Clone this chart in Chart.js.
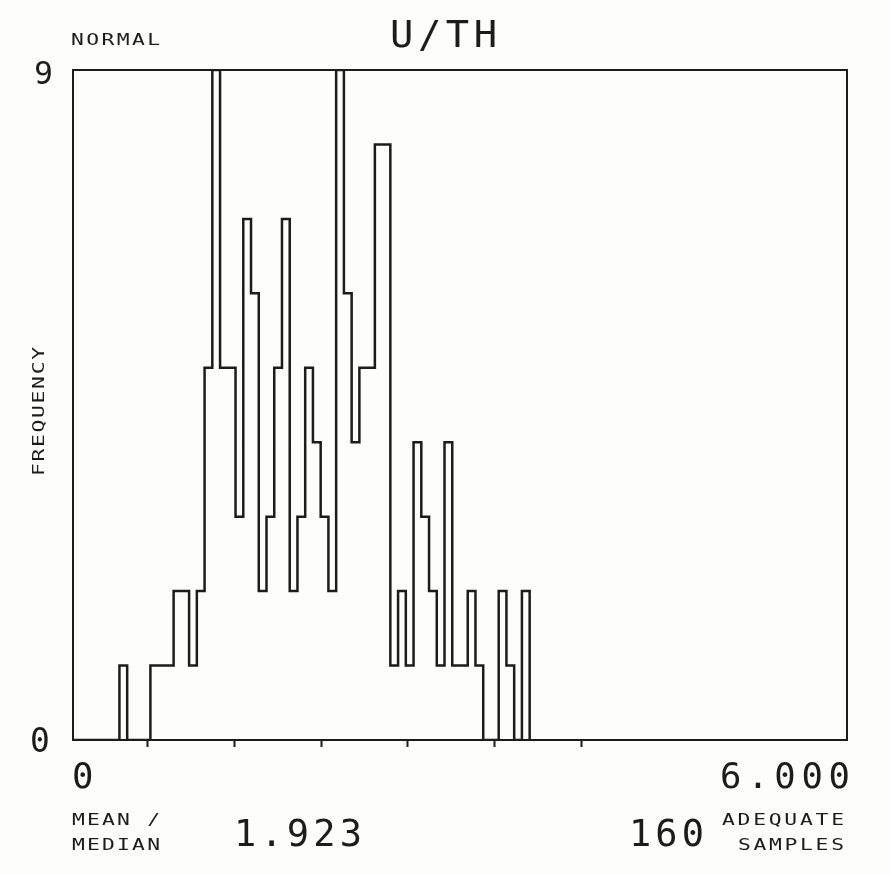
<!DOCTYPE html>
<html>
<head>
<meta charset="utf-8">
<script src="https://cdn.jsdelivr.net/npm/chart.js@4.4.1/dist/chart.umd.min.js"></script>
<style>
  html, body { margin: 0; padding: 0; background: #fdfdfc; }
  canvas { display: block; }
</style>
</head>
<body>
<canvas id="histo" width="891" height="874"></canvas>
<script>
// ─── DONNÉES ──────────────────────────────────────────────────────────────
const chartTitle = 'U/TH';
const fitLabel = 'NORMAL';
const yAxisLabel = 'FREQUENCY';
const xMin = 0;
const xMax = 6;
const xEndLabels = ['0', '6.000'];
const yMin = 0;
const yMax = 9;
const binWidth = 0.06;
// fréquence par classe (classe k = [k*0.06, (k+1)*0.06[)
const binCounts = [
  0, 0, 0, 0, 0, 0, 1, 0, 0, 0,
  1, 1, 1, 2, 2, 1, 2, 5, 9, 5,
  5, 3, 7, 6, 2, 3, 5, 7, 2, 3,
  5, 4, 3, 2, 9, 6, 4, 5, 5, 8,
  8, 1, 2, 1, 4, 3, 2, 1, 4, 1,
  1, 2, 1, 0, 0, 2, 1, 0, 2
];
// repères sur l'axe x (moyenne ± écarts-types)
const xMarks = [0.577, 1.250, 1.923, 2.596, 3.269, 3.942];
const ratioLabel = ['MEAN /', 'MEDIAN'];
const ratioValue = '1.923';
const sampleCount = '160';
const sampleLabel = ['ADEQUATE', 'SAMPLES'];

const INK = '#1c1c1c';

// contour en escalier : un point par bord gauche de classe
const stepPoints = binCounts.map((c, k) => ({ x: k * binWidth, y: c }));
stepPoints.push({ x: binCounts.length * binWidth, y: 0 });

// ─── TEXTE « TRACEUR » ────────────────────────────────────────────────────
// stretch > 1 élargit les glyphes (police de traceur plus large que DejaVu)
function plotText(ctx, str, left, right, bottom, cap, stretch = 1) {
    const size = cap / 0.73;
    ctx.save();
    ctx.translate(left, bottom);
    ctx.scale(stretch, 1);
    ctx.font = `${size}px 'DejaVu Sans Mono', 'Liberation Mono', monospace`;
    ctx.letterSpacing = '0px';
    const natural = ctx.measureText(str).width;
    const target = (right - left) / stretch;
    const gap = str.length > 1 ? (target - natural) / (str.length - 1) : 0;
    ctx.letterSpacing = gap + 'px';
    ctx.textAlign = 'left';
    ctx.textBaseline = 'alphabetic';
    ctx.fillText(str, 0, 0);
    ctx.restore();
}

const plotterFrame = {
    id: 'plotterFrame',
    beforeDraw(chart) {
        const { ctx, width, height } = chart;
        ctx.save();
        ctx.fillStyle = '#fdfdfc';
        ctx.fillRect(0, 0, width, height);
        ctx.restore();
    },
    afterDraw(chart) {
        const { ctx, chartArea: a } = chart;
        const ys = chart.scales.y;
        ctx.save();
        ctx.strokeStyle = INK;
        ctx.lineWidth = 2;
        ctx.strokeRect(a.left, a.top, a.right - a.left, a.bottom - a.top);

        ctx.fillStyle = INK;
        plotText(ctx, fitLabel, 71, 160, 45, 12, 1.3);
        plotText(ctx, chartTitle, 390, 497, 47, 27, 1.05);

        // bornes de l'axe y
        const yTop = ys.getPixelForValue(yMax);
        const yBot = ys.getPixelForValue(yMin);
        plotText(ctx, String(yMax), 34, 50, yTop + 14, 23);
        plotText(ctx, String(yMin), 30, 46, yBot + 12, 24);

        // titre vertical
        ctx.save();
        ctx.translate(44, 0);
        ctx.rotate(-Math.PI / 2);
        plotText(ctx, yAxisLabel, -476, -347, 0, 12, 1.3);
        ctx.restore();

        // bornes de l'axe x
        plotText(ctx, xEndLabels[0], 72, 88, 788, 26);
        plotText(ctx, xEndLabels[1], 720, 850, 788, 26);

        // pied
        plotText(ctx, ratioLabel[0], 72, 160, 825, 12, 1.3);
        plotText(ctx, ratioLabel[1], 72, 160, 850, 12, 1.3);
        plotText(ctx, ratioValue, 234, 362, 846, 27);
        plotText(ctx, sampleCount, 629, 704, 846, 27);
        plotText(ctx, sampleLabel[0], 722, 844, 825, 12, 1.3);
        plotText(ctx, sampleLabel[1], 738, 844, 850, 12, 1.3);
        ctx.restore();
    }
};

// ─── GRAPHIQUE ────────────────────────────────────────────────────────────
const ctx = document.getElementById('histo').getContext('2d');

new Chart(ctx, {
    type: 'line',
    data: {
        datasets: [{
            label: 'U/TH',
            data: stepPoints,
            stepped: true,
            borderColor: INK,
            borderWidth: 2.5,
            pointRadius: 0,
            fill: false
        }]
    },
    options: {
        responsive: false,
        devicePixelRatio: 1,
        animation: false,
        layout: { padding: { top: 70, left: 73, right: 44, bottom: 127 } },
        scales: {
            x: {
                type: 'linear',
                min: xMin,
                max: xMax,
                afterBuildTicks: s => { s.ticks = xMarks.map(v => ({ value: v })); },
                ticks: { display: false },
                border: { display: false },
                grid: {
                    drawOnChartArea: false,
                    drawTicks: true,
                    tickLength: 7,
                    tickWidth: 2,
                    tickColor: INK
                }
            },
            y: {
                type: 'linear',
                min: yMin,
                max: yMax,
                display: false
            }
        },
        plugins: {
            legend: { display: false },
            tooltip: { enabled: false }
        }
    },
    plugins: [plotterFrame]
});
</script>
</body>
</html>
